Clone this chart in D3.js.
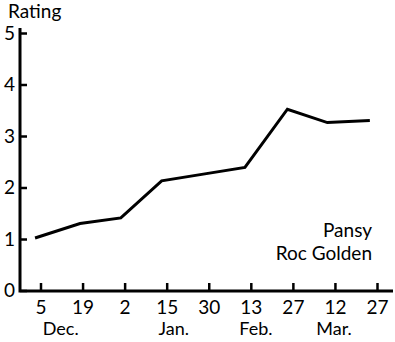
<!DOCTYPE html>
<html>
<head>
<meta charset="utf-8">
<script src="https://cdn.jsdelivr.net/npm/d3@7"></script>
<style>
  body { margin: 0; background: #fff; }
  text { font-family: Lato, "Open Sans", sans-serif; fill: #000; }
</style>
</head>
<body>
<script>
// tick labels along the bottom (one every two weeks)
var dayLabels = ['5', '19', '2', '15', '30', '13', '27', '12', '27'];
var monthLabels = ['Dec.', 'Jan.', 'Feb.', 'Mar.'];
var monthPos = [0.48, 3.17, 5.12, 6.98];

// rating samples, position in tick units
var samplePos = [-0.13, 0.94, 1.91, 2.88, 3.87, 4.86, 5.87, 6.82, 7.83];
var rating = [1.02, 1.30, 1.41, 2.13, 2.26, 2.39, 3.52, 3.26, 3.30];

var legendLines = ['Pansy', 'Roc Golden'];

var width = 395,
    height = 342,
    svg = d3.select('body').append('svg')
        .attr('width', width)
        .attr('height', height);

var x = d3.scaleLinear().domain([0, 8]).range([40.5, 377]),
    y = d3.scaleLinear().domain([0, 5]).range([290.5, 33]);

var yAxis = svg.append('g')
    .attr('transform', 'translate(20,0)')
    .call(d3.axisLeft(y).ticks(5).tickFormat(d3.format('d'))
        .tickSize(-7).tickPadding(5));
yAxis.select('.domain').remove();
yAxis.selectAll('line').attr('stroke', '#000').attr('stroke-width', 2.5);
yAxis.selectAll('text').style('font-size', '19px');

var xAxis = svg.append('g')
    .attr('transform', 'translate(0,291)')
    .call(d3.axisBottom(x).tickValues(d3.range(dayLabels.length))
        .tickFormat(function (d) { return dayLabels[d]; })
        .tickSize(-8).tickPadding(10));
xAxis.select('.domain').remove();
xAxis.selectAll('line').attr('stroke', '#000').attr('stroke-width', 2.5);
xAxis.selectAll('text').style('font-size', '19px');

svg.selectAll('text.month')
    .data(monthLabels)
    .enter()
    .append('text')
    .attr('class', 'month')
    .attr('x', function (d, i) { return x(monthPos[i]); })
    .attr('y', 335)
    .attr('text-anchor', 'middle')
    .style('font-size', '18px')
    .text(function (d) { return d; });

// axis frame
svg.append('path')
    .attr('d', 'M20,28V291H393')
    .attr('fill', 'none')
    .attr('stroke', '#000')
    .attr('stroke-width', 3);

var line = d3.line()
    .x(function (d, i) { return x(samplePos[i]); })
    .y(function (d) { return y(d); });

svg.append('path')
    .datum(rating)
    .attr('d', line)
    .attr('fill', 'none')
    .attr('stroke', '#000')
    .attr('stroke-width', 3)
    .attr('stroke-linejoin', 'miter');

svg.append('text')
    .attr('x', 8)
    .attr('y', 18)
    .style('font-size', '19px')
    .text('Rating');

svg.selectAll('text.legend')
    .data(legendLines)
    .enter()
    .append('text')
    .attr('class', 'legend')
    .attr('x', 372)
    .attr('y', function (d, i) { return 237 + i * 23; })
    .attr('text-anchor', 'end')
    .style('font-size', '19px')
    .text(function (d) { return d; });
</script>
</body>
</html>
